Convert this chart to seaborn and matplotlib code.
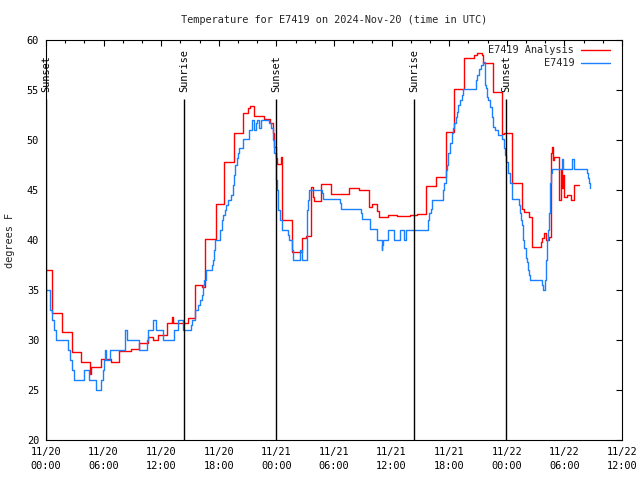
import numpy as np
import pandas as pd
import matplotlib
matplotlib.use("Agg")
import matplotlib.pyplot as plt
import seaborn as sns

# hours since 2024-11-20 00:00 UTC and temperature (F)
analysis_hours = [0.0, 0.66, 1.64, 2.74, 3.61, 4.58, 4.68, 5.70, 6.74, 7.64, 8.82, 9.66,
                  10.66, 11.18, 11.70, 12.64, 13.10, 13.23, 14.76, 15.52, 16.20, 16.56,
                  17.68, 18.57, 19.61, 20.55, 21.00, 21.25, 21.70, 22.71, 23.33, 23.65,
                  23.75, 23.96, 24.09, 24.51, 24.61, 25.63, 26.70, 27.08, 27.57, 27.81,
                  27.92, 28.61, 29.64, 31.61, 32.60, 33.68, 33.93, 34.53, 34.69, 35.63,
                  36.61, 37.92, 38.65, 39.55, 40.59, 41.64, 42.47, 43.57, 44.58, 44.86,
                  45.42, 45.55, 46.53, 47.55, 47.71, 48.54, 49.61, 49.79, 50.36, 50.66,
                  51.53, 51.67, 51.91, 52.05, 52.43, 52.60, 52.68, 52.78, 52.92, 53.47,
                  53.60, 53.75, 53.85, 54.00, 54.30, 54.66, 55.00, 55.55]
analysis_temp = [37.0, 32.7, 30.8, 28.8, 27.8, 26.6, 27.3, 28.1, 27.8, 28.9, 29.1, 29.7,
                 30.3, 30.0, 30.5, 31.7, 32.3, 31.7, 32.2, 35.5, 35.3, 40.1,
                 43.6, 47.8, 50.7, 52.7, 53.2, 53.4, 52.4, 52.1, 51.7, 50.7,
                 49.3, 48.2, 47.6, 48.3, 42.0, 38.8, 40.2, 40.4, 45.3, 44.3,
                 43.9, 45.6, 44.6, 45.2, 45.0, 43.3, 43.6, 42.9, 42.3, 42.5,
                 42.4, 42.5, 42.6, 45.4, 46.3, 50.8, 55.1, 58.2, 58.5, 58.7,
                 58.5, 57.7, 54.8, 50.6, 50.7, 45.7, 43.1, 42.8, 42.3, 39.3,
                 39.8, 40.2, 40.7, 40.0, 40.3, 48.7, 49.3, 48.0, 48.3, 44.0,
                 47.0, 45.2, 46.5, 44.3, 44.5, 44.0, 45.5, 45.5]

station_hours = [0.0, 0.42, 0.62, 0.83, 1.04, 2.32, 2.50, 2.74, 2.95, 3.96, 4.51, 5.18,
                 5.73, 5.90, 6.04, 6.15, 6.25, 6.67, 8.28, 8.44, 9.64, 10.47, 10.66,
                 11.18, 11.46, 12.22, 13.30, 13.80, 14.30, 15.07, 15.18, 15.52, 15.87,
                 16.04, 16.22, 16.39, 16.49, 16.67, 17.26, 17.36, 17.50, 17.60, 18.13,
                 18.30, 18.45, 18.60, 18.80, 19.00, 19.25, 19.45, 19.60, 19.72, 19.85,
                 19.98, 20.10, 20.55, 21.18, 21.48, 21.67, 21.84, 22.01, 22.18, 22.36,
                 23.26, 23.44, 23.61, 23.78, 23.96, 24.00, 24.05, 24.20, 24.38, 24.55,
                 25.18, 25.31, 25.59, 25.70, 25.76, 26.46, 26.70, 27.16, 27.32, 27.43,
                 28.78, 28.89, 30.63, 30.73, 32.78, 32.89, 33.75, 34.51, 34.97, 35.03,
                 35.14, 35.63, 36.25, 36.88, 37.32, 37.47, 39.82, 39.93, 40.07, 40.24,
                 41.39, 41.49, 41.64, 41.74, 41.91, 42.08, 42.26, 42.43, 42.53, 42.68,
                 42.78, 42.95, 43.13, 43.30, 43.41, 44.76, 44.93, 45.10, 45.31, 45.49,
                 45.68, 45.83, 45.97, 46.07, 46.25, 46.43, 46.59, 46.77, 47.11, 47.47,
                 47.71, 47.81, 47.92, 48.16, 48.33, 48.51, 48.57, 49.27, 49.38, 49.48,
                 49.55, 49.66, 49.72, 49.82, 49.97, 50.07, 50.24, 50.34, 50.42, 51.70,
                 51.74, 51.98, 52.08, 52.22, 52.32, 52.43, 52.50, 52.60, 52.71, 53.72,
                 53.89, 54.76, 55.03, 56.32, 56.43, 56.56, 56.67]
station_temp = [35, 33, 32, 31, 30, 29, 28, 27, 26, 27, 26, 25,
                26, 27, 28, 29, 28, 29, 31, 30, 29, 30, 31,
                32, 31, 30, 31, 32, 31, 31.5, 32, 33, 33.5,
                34, 34.5, 35.5, 36, 37, 37.5, 38, 39, 40, 41,
                42, 42.5, 43, 43.5, 44, 44.5, 45.5, 46.5, 47.5, 48.2,
                48.7, 49.2, 50.1, 51, 52, 51, 51.7, 52, 51.2, 52,
                51.7, 51.2, 50, 48.7, 48, 46, 45, 43, 42, 41,
                40.5, 40, 39, 38.5, 38, 39, 38, 43, 44, 45,
                44.7, 44.1, 43.7, 43.1, 42.7, 42.1, 41.1, 40, 39, 39.5,
                40, 41, 40, 41, 40, 41, 42, 42.7, 43.1, 44,
                45, 45.7, 47, 47.5, 48.7, 49.7, 50.7, 51.2, 51.7, 52.3,
                52.8, 53.5, 54, 54.5, 55.1, 56, 56.5, 57.1, 57.5, 57.8,
                55.5, 55.2, 54.3, 54, 53.3, 52.3, 51.3, 51, 50.5, 50.1,
                49.2, 48.5, 47.8, 46.7, 45.7, 45, 44.1, 43.5, 42.7, 42,
                41.5, 40.8, 40, 39.2, 38.2, 37.8, 37, 36.5, 36, 35.5,
                35, 36, 38, 40, 41, 42.7, 45.7, 46.7, 47.1, 48.1,
                47.1, 48.1, 47.1, 46.7, 46.2, 45.7, 45.2]

sun_hours = [0.0, 14.38, 23.96, 38.33, 47.92]
sun_labels = ["Sunset", "Sunrise", "Sunset", "Sunrise", "Sunset"]

tick_hours = [0, 6, 12, 18, 24, 30, 36, 42, 48, 54, 60]
tick_labels = ["11/20\n00:00", "11/20\n06:00", "11/20\n12:00", "11/20\n18:00",
               "11/21\n00:00", "11/21\n06:00", "11/21\n12:00", "11/21\n18:00",
               "11/22\n00:00", "11/22\n06:00", "11/22\n12:00"]

sns.set_theme(style="white")
plt.rcParams["font.family"] = ["DejaVu Sans Mono"]
FS = 7.4

analysis_df = pd.DataFrame({"hours": analysis_hours, "temp": analysis_temp})
station_df = pd.DataFrame({"hours": station_hours, "temp": station_temp})

fig = plt.figure(figsize=(6.4, 4.8), dpi=100)
ax = fig.add_axes([46 / 640, 40 / 480, 576 / 640, 400 / 480])

sns.lineplot(data=analysis_df, x="hours", y="temp", ax=ax, color="#ff0000",
             linewidth=1.0, drawstyle="steps-post", estimator=None, sort=False,
             label="E7419 Analysis")
sns.lineplot(data=station_df, x="hours", y="temp", ax=ax, color="#1a80ff",
             linewidth=1.0, drawstyle="steps-post", estimator=None, sort=False,
             label="E7419")

# sunrise / sunset markers
ax.vlines(sun_hours, 20, 54.1, color="black", linewidth=1.0)
for h, lab in zip(sun_hours, sun_labels):
    ax.text(h, 54.8, lab, rotation=90, ha="center", va="bottom", fontsize=FS,
            color="black", clip_on=False)

ax.set_xlim(0, 60)
ax.set_ylim(20, 60)
ax.set_xticks(tick_hours)
ax.set_xticklabels(tick_labels, fontsize=FS, linespacing=1.5)
ax.set_xticks(np.arange(0, 61, 2), minor=True)
ax.set_yticks(np.arange(20, 61, 5))
ax.set_yticklabels([str(v) for v in range(20, 61, 5)], fontsize=FS)
ax.tick_params(axis="both", which="both", direction="in", top=True, right=True,
               colors="black", width=0.8)
ax.tick_params(axis="both", which="major", length=4, pad=5)
ax.tick_params(axis="both", which="minor", length=2.5)
ax.set_xlabel("")
ax.set_ylabel("")
for sp in ax.spines.values():
    sp.set_color("black")
    sp.set_linewidth(0.8)

fig.text(334 / 640, 1 - 20 / 480, "Temperature for E7419 on 2024-Nov-20 (time in UTC)",
         ha="center", va="center", fontsize=FS)
fig.text(10 / 640, 0.5, "degrees F", rotation=90, ha="center", va="center", fontsize=FS)

leg = ax.legend(loc="upper right", bbox_to_anchor=(0.983, 0.992), frameon=False,
                markerfirst=False, fontsize=FS, handlelength=2.8, handletextpad=0.7,
                labelspacing=0.3, borderaxespad=0.0, borderpad=0.2)

fig.savefig("out.png", dpi=100)
